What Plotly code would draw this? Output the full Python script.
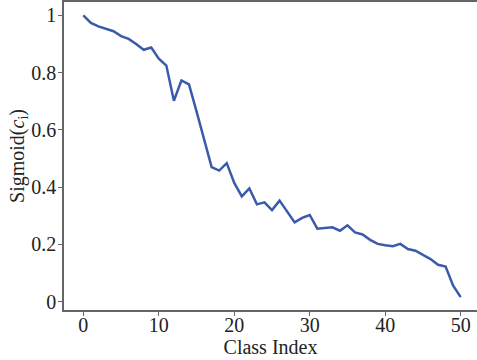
import plotly.graph_objects as go

class_index = list(range(51))
sigmoid_values = [
    1.000, 0.974, 0.962, 0.953, 0.945, 0.928, 0.918, 0.900, 0.880, 0.888,
    0.849, 0.825, 0.702, 0.773, 0.759, 0.665, 0.565, 0.470, 0.458, 0.484,
    0.415, 0.368, 0.396, 0.340, 0.347, 0.320, 0.353, 0.315, 0.277, 0.293,
    0.303, 0.255, 0.258, 0.260, 0.248, 0.267, 0.242, 0.235, 0.216, 0.202,
    0.197, 0.194, 0.202, 0.184, 0.178, 0.164, 0.149, 0.129, 0.123, 0.056,
    0.016,
]
x_ticks = [0, 10, 20, 30, 40, 50]
y_ticks = [0, 0.2, 0.4, 0.6, 0.8, 1]
y_tick_labels = ["0", "0.2", "0.4", "0.6", "0.8", "1"]

fig = go.Figure()
fig.add_trace(go.Scatter(
    x=class_index, y=sigmoid_values, mode="lines",
    line=dict(color="#3a5bab", width=2.5),
    showlegend=False,
))

font = dict(family="Liberation Serif, Times New Roman, serif", size=20, color="#222222")

fig.update_layout(
    width=477, height=360,
    margin=dict(l=64, r=0, t=2, b=50, autoexpand=False),
    paper_bgcolor="white", plot_bgcolor="white",
    font=font,
    xaxis=dict(
        range=[-2.56, 52.16], tickvals=x_ticks,
        showgrid=False, zeroline=False,
        showline=True, linecolor="#666666", linewidth=1.5, mirror=True,
        ticks="outside", ticklen=4, tickcolor="#666666", tickwidth=1,
        ticklabelstandoff=-8,
        title=dict(text="Class Index", standoff=0, font=font),
        tickfont=font, automargin=False,
    ),
    yaxis=dict(
        range=[-0.029, 1.047], tickvals=y_ticks, ticktext=y_tick_labels,
        showgrid=False, zeroline=False,
        showline=True, linecolor="#666666", linewidth=1.5, mirror=False,
        ticks="outside", ticklen=4, tickcolor="#666666", tickwidth=1,
        ticklabelstandoff=-2,
        title=dict(text="Sigmoid(<i>c</i><sub>i</sub>)", standoff=0, font=font),
        tickfont=font, automargin=False,
    ),
)

fig.write_html(
    "out.html",
    config={"displayModeBar": False},
    post_script="document.body.style.margin='0';document.body.style.overflow='hidden';",
)
